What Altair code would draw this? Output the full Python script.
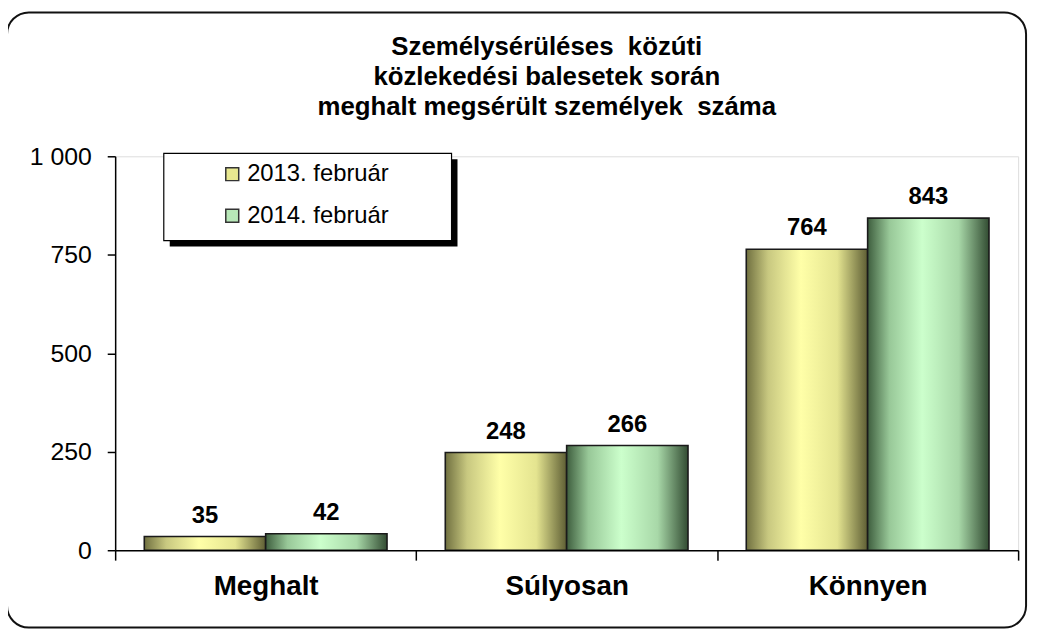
import altair as alt
import pandas as pd

categories = ["Meghalt", "Súlyosan", "Könnyen"]
series = ["2013. február", "2014. február"]
values_2013 = [35, 248, 764]
values_2014 = [42, 266, 843]
y_ticks = [0, 250, 500, 750, 1000]
title_lines = ["Személysérüléses\u00a0 közúti", "közlekedési balesetek során",
               "meghalt megsérült személyek\u00a0 száma"]

rows = []
for c, a, b in zip(categories, values_2013, values_2014):
    rows.append({"cat": c, "series": series[0], "value": a})
    rows.append({"cat": c, "series": series[1], "value": b})
df = pd.DataFrame(rows)

W, H = 910, 397
FONT = "Liberation Sans"

grad_y = {"gradient": "linear", "x1": 0, "x2": 1, "y1": 0, "y2": 0,
          "stops": [{"offset": 0, "color": "#707040"},
                    {"offset": 0.18, "color": "#c8c880"},
                    {"offset": 0.45, "color": "#ffffa8"},
                    {"offset": 0.75, "color": "#e4e490"},
                    {"offset": 1, "color": "#5e5e34"}]}
grad_g = {"gradient": "linear", "x1": 0, "x2": 1, "y1": 0, "y2": 0,
          "stops": [{"offset": 0, "color": "#3e5e3e"},
                    {"offset": 0.18, "color": "#98c898"},
                    {"offset": 0.45, "color": "#ccffcc"},
                    {"offset": 0.75, "color": "#a8d8a8"},
                    {"offset": 1, "color": "#324c32"}]}

one = pd.DataFrame({"k": [0]})

frame = alt.Chart(one).mark_rect(
    fillOpacity=0, stroke="#111", strokeWidth=2, cornerRadius=22
).encode(x=alt.value(-109), x2=alt.value(W + 8), y=alt.value(-145), y2=alt.value(H + 78))

title = alt.Chart(one).mark_text(
    fontSize=26, fontWeight="bold", font=FONT, color="black", align="center",
    baseline="middle", lineHeight=30
).encode(x=alt.value(435), y=alt.value(-110), text=alt.value(title_lines))

shadow = alt.Chart(one).mark_rect(fill="black").encode(
    x=alt.value(55), x2=alt.value(345), y=alt.value(3), y2=alt.value(91))
lbox = alt.Chart(one).mark_rect(fill="white", stroke="black", strokeWidth=1.2).encode(
    x=alt.value(49), x2=alt.value(339), y=alt.value(-3), y2=alt.value(85))

x_enc = alt.X("cat:N", sort=categories,
              scale=alt.Scale(paddingInner=0, paddingOuter=0),
              axis=alt.Axis(title=None, labelFontSize=28, labelFontWeight="bold",
                            labelFont=FONT, labelColor="black", labelAngle=0,
                            tickBand="extent", tickSize=10, labelPadding=13,
                            domainColor="black", tickColor="black",
                            domainWidth=1.5, tickWidth=1.5, zindex=2))
xo_enc = alt.XOffset("series:N", sort=series,
                     scale=alt.Scale(paddingOuter=0.24, paddingInner=0))
y_enc = alt.Y("value:Q", scale=alt.Scale(domain=[0, 1000]),
              axis=alt.Axis(title=None, values=y_ticks, grid=False,
                            labelExpr="datum.value == 1000 ? '1 000' : datum.label",
                            labelFontSize=25, labelFont=FONT, labelColor="black",
                            tickSize=8, labelPadding=16, domainColor="black",
                            tickColor="black", domainWidth=1.5, tickWidth=1.5, zindex=2))

base = alt.Chart(df)

bars_legend = base.mark_bar().encode(
    x=x_enc, xOffset=xo_enc, y=y_enc,
    color=alt.Color("series:N", sort=series,
                    scale=alt.Scale(domain=series, range=["#e8e890", "#b8e8b8"]),
                    legend=alt.Legend(title=None, orient="none", legendX=106, legendY=6,
                                      symbolType="square", symbolSize=170,
                                      symbolStrokeColor="#333", symbolStrokeWidth=1.5,
                                      labelFontSize=24, labelFont=FONT, labelColor="black",
                                      rowPadding=18, labelOffset=3, padding=0)))

bars = base.mark_bar(stroke="#1a1a1a", strokeWidth=1.6).encode(
    x=x_enc, xOffset=xo_enc, y=y_enc,
    color=alt.condition(alt.datum.series == series[0], alt.value(grad_y), alt.value(grad_g)))

labels = base.mark_text(fontSize=24, fontWeight="bold", font=FONT, baseline="bottom",
                        dy=-9, color="black").encode(
    x=x_enc, xOffset=xo_enc, y=y_enc, text=alt.Text("value:Q"))

chart = alt.layer(frame, title, bars_legend, bars, labels, shadow, lbox).properties(
    width=W, height=H,
    autosize=alt.AutoSizeParams(type="none"),
    padding={"left": 108, "top": 147, "right": 16, "bottom": 84},
).configure_view(stroke=None).configure(background="white")

chart.save("out.html", embed_options={"renderer": "svg", "actions": False})
